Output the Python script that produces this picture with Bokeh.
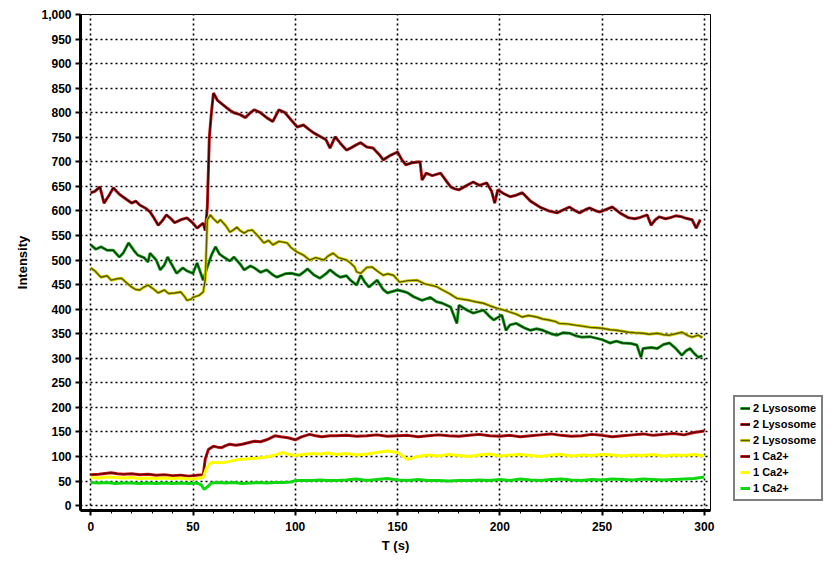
from bokeh.plotting import figure
from bokeh.models import Range1d, SingleIntervalTicker, NumeralTickFormatter, Legend, LegendItem
from bokeh.embed import file_html
from bokeh.resources import INLINE

# ---- data ----
lyso_red_t = [0,2,4.5,6.5,9,11,14,17,20,22,24,27,29,31,33,35,37,39,41,44,47,50,52,54,55,56,57,58,59,60,
              62,65,68,70,73,75.6,78,80,83,86,89,92,95,98,101,104,107,109,112,115,117,119.5,122,125,127,130,
              132,135,138,141,143,146,150,152,154,157,161,162,164,167,171,174,176,178,180,183,187,190,193.6,
              196,197.5,199,202,205,208,211,215,219.5,224,228,231,234,237,239,242,244,247,249,252,255,259,
              263,266,268,272,274,276,278,281,283,286,289,291,294,296,298]
lyso_red_v = [637,640,649,616,632,647,634,625,616,620,612,605,598,585,571,580,592,585,576,582,586,575,565,572,575,560,608,751,800,840,
              825,815,805,800,796,790,800,806,800,790,782,806,800,785,771,775,765,759,752,745,728,751,738,724,728,735,
              739,730,728,715,704,712,720,705,694,698,700,663,677,672,677,660,649,645,643,650,659,652,657,
              640,616,643,635,629,632,637,620,608,600,596,602,608,600,596,603,606,600,598,603,608,595,
              586,584,586,592,571,582,588,584,586,590,588,585,582,565,582]

lyso_green_t = [0,2.5,5,8,11,14,16,18.5,21,23,26,28,29,32,34,36,37.6,40,42,45,47,50,52,55,57,59,61,63,65,68,
                70,73,75,78,80,83,86,89,91,95,98,102,104,106,109,112,115,117,120,122,125,127,130,132,134,136,
                140,143,145,150,153,155,158,162,166,169,172,176,179,180,184,187,192,195,197,201,203,205,208,
                212,215,218,221,225,228,231,234,237,240,244,247,250,254,257,260,264,267,269,270,274,277,280,
                283,286,289,291,293,295,297,299]
lyso_green_v = [531,522,527,520,520,506,515,535,520,510,505,496,514,500,480,490,506,488,473,484,478,473,494,459,486,510,527,512,506,498,
                506,492,480,488,484,475,480,470,465,472,473,469,475,482,470,463,472,480,470,465,468,459,449,469,455,445,
                459,440,433,439,436,433,425,418,424,415,412,404,371,408,398,392,398,385,378,388,357,368,371,
                362,357,360,357,350,347,352,351,346,343,344,341,338,331,335,331,330,327,302,320,322,320,328,
                331,320,306,315,320,310,302,305]

lyso_olive_t = [0,2,5,8,10,13,15,18,20,22,24,26,28,31,33,36,38,41,44,46,47,49,50,53,55,56,57,58.5,60,62,
                63.4,66,68,70,71.5,73,75,77,79,82,84.6,87,89,92,96,98,101,104,107,110,114,116,118.5,121,125,
                127,129,130,132,135,137.5,140,143,145,148,151,155,159.5,163,166,169,172,176,179,182,185,188,
                192,195,198.5,202,205,208,211,214,218,221,224,227,229,233,237.6,241,244,247,250,254,257,260,
                263,266,270,273,277,280,283,286,289,292,294,297,299]
lyso_olive_v = [484,478,465,468,459,462,463,452,445,440,439,445,449,440,433,439,432,433,435,425,418,420,424,428,435,460,582,592,584,576,
                582,570,557,562,567,560,555,560,561,548,535,540,531,538,535,525,516,510,500,505,500,508,514,505,500,
                494,486,476,473,485,486,478,469,472,469,455,458,459,452,449,446,439,430,422,420,418,415,
                412,407,402,398,394,390,384,387,384,380,378,375,371,370,367,365,363,362,361,358,357,355,
                353,352,351,349,351,348,347,350,353,346,343,347,342]

late_t = list(range(120, 301, 5))

ca_red_t = [0,4,8,10,13,16,20,24,28,32,36,40,44,48,52,55,56,57.5,60,62,64,66,68,71,74,77,80,83,86,88,
            90,93,96.5,100,103,107,110,113,117] + late_t
ca_red_v = [63,64,66,67,65,64,65,63,64,62,63,61,62,60,62,63,95,114,121,119,118,122,125,123,125,128,131,130,134,138,
            142,140,138,134,140,145,142,140,142,
            142,143,141,142,144,141,142,143,140,142,144,142,141,143,145,142,141,143,140,142,144,146,143,141,142,
            145,143,140,142,144,146,143,145,147,144,149,152]

ca_yellow_t = [0,4,8,12,16,20,24,28,32,36,40,44,48,52,55,56.5,58.5,61,64,68,72,76,82,86,90,94,97,100,104,108,
               112,116] + late_t
ca_yellow_v = [57,56,58,57,56,57,55,56,55,56,55,56,54,55,57,75,87,88,87,90,94,95,97,99,103,108,104,102,104,106,
               105,107,
               104,106,103,105,108,111,108,94,100,103,101,104,102,100,103,105,101,103,104,102,100,103,104,101,103,
               102,104,103,101,103,102,104,101,103,102,104,101]

ca_green_t = [0,4,8,12,16,20,24,28,32,36,40,44,48,52,54,55.5,57,59,62,66,70,74,78,82,86,90,94,98,100,104,
              108,112,116] + late_t
ca_green_v = [47,46,47,45,46,46,45,46,45,46,45,46,45,46,42,33,38,46,47,46,47,45,46,47,46,47,47,48,51,51,
              51,52,51,
              51,52,54,51,53,55,52,51,53,51,51,50,51,51,52,51,53,51,54,52,51,53,54,52,51,53,52,54,53,52,
              54,53,52,53,54,55,58]

series_labels = ["2 Lysosome", "2 Lysosome", "2 Lysosome", "1 Ca2+", "1 Ca2+", "1 Ca2+"]
series_colors = ["#1fa81f", "#c41a1a", "#d4d400", "#d01414", "#ffff00", "#10d810"]
series_cores = ["#0a3a0a", "#2e0606", "#5e5a00", "#5a0606", None, None]

x_label = "T (s)"
y_label = "Intensity"

FONT = "Liberation Sans"

p = figure(frame_width=630, frame_height=496, output_backend="svg", toolbar_location=None,
           x_range=Range1d(-5, 303), y_range=Range1d(-10, 1000),
           min_border_left=80, min_border_right=128, min_border_top=14, min_border_bottom=51)

p.background_fill_color = "white"
p.border_fill_color = "white"
p.outline_line_color = "black"
p.outline_line_width = 1

# axes
p.xaxis.ticker = SingleIntervalTicker(interval=50, num_minor_ticks=5)
p.yaxis.ticker = SingleIntervalTicker(interval=50, num_minor_ticks=0)
p.yaxis.formatter = NumeralTickFormatter(format="0,0")
for ax in (p.xaxis[0], p.yaxis[0]):
    ax.axis_line_width = 3
    ax.axis_line_color = "black"
    ax.major_tick_line_width = 2
    ax.major_tick_line_color = "black"
    ax.major_tick_out = 5
    ax.major_tick_in = 0
    ax.minor_tick_out = 3
    ax.minor_tick_in = 0
    ax.minor_tick_line_color = "black"
    ax.minor_tick_line_width = 1
    ax.major_label_text_font = FONT
    ax.major_label_text_font_style = "bold"
    ax.major_label_text_font_size = "12px"
    ax.major_label_text_color = "black"
    ax.axis_label_text_font = FONT
    ax.axis_label_text_font_style = "bold"
    ax.axis_label_text_font_size = "13px"
    ax.axis_label_text_color = "black"
p.xaxis.axis_label = x_label
p.yaxis.axis_label = y_label
p.xaxis.major_label_standoff = 6
p.xaxis.axis_label_standoff = 4
p.yaxis.major_label_standoff = 4
p.yaxis.axis_label_standoff = 8

# grid
for g in (p.xgrid[0], p.ygrid[0]):
    g.grid_line_color = "black"
    g.grid_line_dash = "2 3"
    g.grid_line_width = 1.6
p.xgrid.ticker = SingleIntervalTicker(interval=50)
p.ygrid.ticker = SingleIntervalTicker(interval=50)

data = [(lyso_green_t, lyso_green_v), (lyso_red_t, lyso_red_v), (lyso_olive_t, lyso_olive_v),
        (ca_red_t, ca_red_v), (ca_yellow_t, ca_yellow_v), (ca_green_t, ca_green_v)]

items = []
for (t, v), lab, col, core in zip(data, series_labels, series_colors, series_cores):
    rs = [p.line(t, v, line_color=col, line_width=3)]
    if core is not None:
        rs.append(p.line(t, v, line_color=core, line_width=1.4))
    items.append(LegendItem(label=lab, renderers=rs))

legend = Legend(items=items)
legend.label_text_font = FONT
legend.label_text_font_style = "bold"
legend.label_text_font_size = "11px"
legend.label_text_color = "black"
legend.label_height = 12
legend.label_standoff = 3
legend.glyph_height = 12
legend.glyph_width = 10
legend.spacing = 4
legend.padding = 5
legend.margin = 0
legend.border_line_color = "black"
legend.border_line_width = 2
legend.background_fill_color = "white"
legend.background_fill_alpha = 1
legend.location = (23, 9)
p.add_layout(legend, "right")

open("out.html", "w").write(file_html(p, INLINE))
